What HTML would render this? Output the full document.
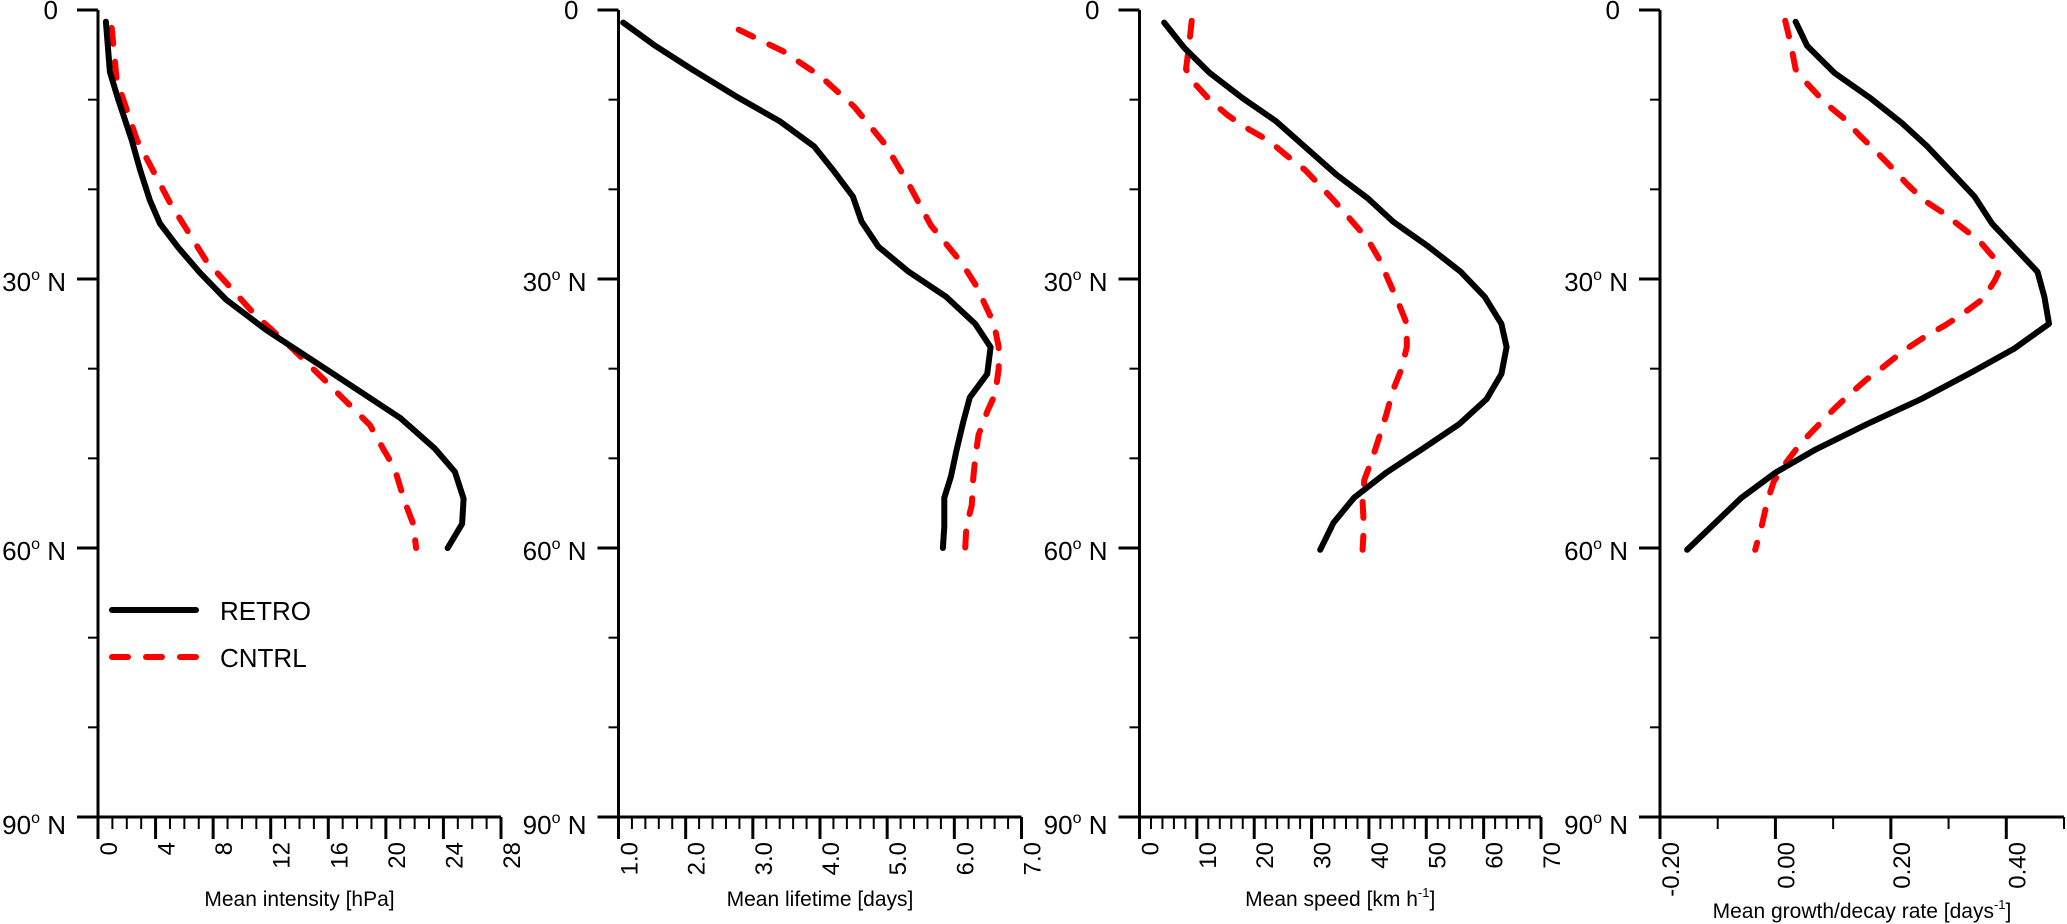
<!DOCTYPE html>
<html><head><meta charset="utf-8"><style>
body{margin:0;background:#fff}
svg{display:block}
text{font-family:"Liberation Sans",sans-serif;fill:#000}
</style></head><body>
<svg id="chart" width="2067" height="924" viewBox="0 0 2067 924" xmlns="http://www.w3.org/2000/svg"></svg>
<script>
// Shared latitude axis
const latTicks = [0, 30, 60, 90];
const latMinor = [10, 20, 40, 50, 70, 80];

// Panel 1: Mean intensity [hPa]
const p1Ticks = [0, 4, 8, 12, 16, 20, 24, 28];
const p1TickLabels = ["0", "4", "8", "12", "16", "20", "24", "28"];
const p1RetroLat = [1.3, 6.9, 10, 14.5, 17.8, 21.2, 23.8, 26.5, 29.3, 32.3, 35.7, 40.1, 45.5, 48.9, 51.5, 54.5, 57.3, 60];
const p1RetroVal = [0.55, 0.83, 1.41, 2.34, 2.92, 3.6, 4.3, 5.58, 7.08, 8.9, 11.7, 15.9, 21, 23.4, 24.8, 25.4, 25.3, 24.3];
const p1CntrlLat = [2, 7.8, 14.5, 21.5, 27.9, 33.8, 37.9, 42, 46.3, 48.9, 51.1, 54.8, 57.3, 60];
const p1CntrlVal = [0.95, 1.3, 2.7, 5, 7.5, 10.8, 13.6, 16.2, 18.9, 19.8, 20.6, 21.3, 21.9, 22.1];

// Panel 2: Mean lifetime [days]
const p2Ticks = [1, 2, 3, 4, 5, 6, 7];
const p2TickLabels = ["1.0", "2.0", "3.0", "4.0", "5.0", "6.0", "7.0"];
const p2RetroLat = [1.4, 4, 6.6, 9.8, 12.4, 15.2, 18, 20.8, 23.6, 26.4, 29.2, 32, 35, 37.6, 40.6, 43.2, 46, 49.2, 52, 54.4, 57.6, 60];
const p2RetroVal = [1.07, 1.55, 2.09, 2.79, 3.4, 3.91, 4.21, 4.49, 4.62, 4.87, 5.32, 5.88, 6.31, 6.54, 6.49, 6.23, 6.13, 6.03, 5.95, 5.85, 5.85, 5.83];
const p2CntrlLat = [2.2, 4.6, 7.4, 10.8, 15, 19.4, 24, 28.2, 30.8, 35, 37.6, 40, 42.8, 44.8, 47.4, 50, 52.4, 55.2, 57.6, 60.2];
const p2CntrlVal = [2.79, 3.45, 4.01, 4.51, 4.97, 5.32, 5.65, 6.11, 6.33, 6.59, 6.66, 6.66, 6.61, 6.49, 6.36, 6.31, 6.28, 6.26, 6.18, 6.16];

// Panel 3: Mean speed [km h-1]
const p3Ticks = [0, 10, 20, 30, 40, 50, 60, 70];
const p3TickLabels = ["0", "10", "20", "30", "40", "50", "60", "70"];
const p3RetroLat = [1.4, 4.2, 7, 9.8, 12.4, 15.4, 18.4, 21, 23.6, 26.4, 29.2, 32, 35, 37.6, 40.6, 43.4, 46.2, 49, 51.6, 54.4, 57.2, 60.2];
const p3RetroVal = [4.3, 7.8, 12.2, 17.9, 23.8, 29.1, 34.4, 39.8, 44.2, 50.4, 56, 60.2, 63.1, 64, 63.1, 60.5, 55.7, 49.2, 43, 37.4, 33.8, 31.5];
const p3CntrlLat = [1.2, 3.6, 6.6, 8.2, 10.2, 11.8, 13.2, 14.6, 16.2, 17.8, 19.6, 21.6, 23.6, 25.6, 27.8, 30, 32.6, 35, 37.6, 40, 42.4, 45.2, 47.6, 50, 52.4, 54.8, 57.6, 60.2];
const p3CntrlVal = [9.1, 8.7, 8.1, 9.6, 12.5, 15.5, 18.8, 22.6, 25.6, 28.8, 31.5, 34.4, 37.1, 39.8, 41.8, 43.3, 45.1, 46.6, 46.6, 45.7, 44.2, 43, 41.8, 40.6, 39.2, 38.9, 39.1, 38.9];

// Panel 4: Mean growth/decay rate [days-1]
const p4Ticks = [-0.2, 0, 0.2, 0.4];
const p4TickLabels = ["-0.20", "0.00", "0.20", "0.40"];
const p4RetroLat = [1.3, 4, 7, 9.8, 12.6, 15.2, 20.8, 23.8, 29.2, 32, 35, 37.8, 40.4, 43.4, 46.2, 49, 51.6, 54.4, 60.2];
const p4RetroVal = [0.035, 0.055, 0.102, 0.164, 0.219, 0.263, 0.345, 0.375, 0.454, 0.466, 0.474, 0.413, 0.34, 0.252, 0.158, 0.07, 0, -0.059, -0.153];
const p4CntrlLat = [1.2, 3.6, 6.6, 8, 10.4, 12, 14, 15.8, 17.6, 19.4, 21.2, 22.6, 24.2, 25.8, 27.6, 29.4, 30.2, 32.2, 34, 35.2, 36.6, 38, 39.8, 41.2, 43, 44.6, 46.6, 48.4, 50.6, 52.6, 55, 57.6, 60.2];
const p4CntrlVal = [0.017, 0.026, 0.035, 0.052, 0.087, 0.117, 0.146, 0.175, 0.202, 0.228, 0.257, 0.29, 0.322, 0.354, 0.378, 0.386, 0.38, 0.36, 0.322, 0.293, 0.255, 0.222, 0.187, 0.158, 0.126, 0.1, 0.07, 0.043, 0.017, -0.003, -0.015, -0.024, -0.035];

const NS = "http://www.w3.org/2000/svg";
const svg = document.getElementById("chart");
const Y0 = 10, Y90 = 817;
function yScale(lat) { return Y0 + (Y90 - Y0) * lat / 90; }
function mk(tag, attrs, parent) {
  const e = document.createElementNS(NS, tag);
  for (const k in attrs) e.setAttribute(k, attrs[k]);
  (parent || svg).appendChild(e);
  return e;
}

const panels = [
  {key:"intensity", x0:98, x1:501, min:0, max:28, ticks:p1Ticks, labels:p1TickLabels, minorStep:1,
   title:["Mean intensity [hPa]"], titleY:906,
   retro:[p1RetroLat,p1RetroVal], cntrl:[p1CntrlLat,p1CntrlVal]},
  {key:"lifetime", x0:618.5, x1:1021.5, min:1, max:7, ticks:p2Ticks, labels:p2TickLabels, minorStep:0.2,
   title:["Mean lifetime [days]"], titleY:906,
   retro:[p2RetroLat,p2RetroVal], cntrl:[p2CntrlLat,p2CntrlVal]},
  {key:"speed", x0:1139.5, x1:1541, min:0, max:70, ticks:p3Ticks, labels:p3TickLabels, minorStep:2,
   title:["Mean speed [km h","-1","]"], titleY:906,
   retro:[p3RetroLat,p3RetroVal], cntrl:[p3CntrlLat,p3CntrlVal]},
  {key:"growth", x0:1660, x1:2064, min:-0.2, max:0.5, ticks:p4Ticks, labels:p4TickLabels, minorStep:0.1,
   title:["Mean growth/decay rate [days","-1","]"], titleY:918,
   retro:[p4RetroLat,p4RetroVal], cntrl:[p4CntrlLat,p4CntrlVal]}
];

panels.forEach(p => {
  const g = mk("g", {});
  
  
  const xs = v => p.x0 + (p.x1 - p.x0) * (v - p.min) / (p.max - p.min);

  // axes
  const ax = mk("path", {d:`M${p.x0} ${Y0} V${Y90} H${p.x1}`, fill:"none", stroke:"#000", "stroke-width":3}, g);
  
  

  // y ticks
  latTicks.forEach(l => {
    const y = yScale(l);
    const t = mk("line", {x1:p.x0 - 21, x2:p.x0, y1:y, y2:y, stroke:"#000", "stroke-width":3}, g);
    
    
    let lab;
    if (l === 0) {
      lab = mk("text", {x:p.x0 - 40, y:y + 9, "font-size":26, "text-anchor":"end"}, g);
      lab.textContent = "0";
    } else {
      const dy = l === 90 ? 17 : 12;
      lab = mk("text", {x:p.x0 - 32, y:y + dy, "font-size":26, "text-anchor":"end"}, g);
      const a = mk("tspan", {}, lab); a.textContent = String(l);
      const b = mk("tspan", {"font-size":16, dy:-11}, lab); b.textContent = "o";
      const c = mk("tspan", {dy:11}, lab); c.textContent = " N";
    }
    
    
  });
  latMinor.forEach(l => {
    const y = yScale(l);
    const t = mk("line", {x1:p.x0 - 10, x2:p.x0, y1:y, y2:y, stroke:"#000", "stroke-width":2}, g);
    
    
  });

  // x minor ticks
  const n = Math.round((p.max - p.min) / p.minorStep);
  for (let i = 0; i <= n; i++) {
    const v = p.min + i * p.minorStep;
    const x = xs(v);
    const t = mk("line", {x1:x, x2:x, y1:Y90, y2:Y90 + 12, stroke:"#000", "stroke-width":2}, g);
    
    
  }
  // x major ticks + labels
  p.ticks.forEach((v, i) => {
    const x = xs(v);
    const t = mk("line", {x1:x, x2:x, y1:Y90, y2:Y90 + 22, stroke:"#000", "stroke-width":3}, g);
    
    
    const lab = mk("text", {x:0, y:0, "font-size":24, "text-anchor":"end", transform:`translate(${x + 19},842) rotate(-90)`}, g);
    lab.textContent = p.labels[i];
    
    
  });

  // title
  const tt = mk("text", {x:(p.x0 + p.x1) / 2, y:p.titleY, "font-size":21, "text-anchor":"middle"}, g);
  
  
  const s1 = mk("tspan", {}, tt); s1.textContent = p.title[0];
  if (p.title.length > 1) {
    const s2 = mk("tspan", {"font-size":13, dy:-9}, tt); s2.textContent = p.title[1];
    const s3 = mk("tspan", {dy:9}, tt); s3.textContent = p.title[2];
  }

  // series
  const line = (arr, color, dash, name) => {
    const d = arr[0].map((lat, i) => (i ? "L" : "M") + xs(arr[1][i]).toFixed(1) + " " + yScale(lat).toFixed(1)).join(" ");
    const attrs = {d, fill:"none", stroke:color, "stroke-width":6, "stroke-linejoin":"round", "stroke-linecap":"round"};
    if (dash) attrs["stroke-dasharray"] = "16 18";
    const e = mk("path", attrs, g);
    
    
  };
  line(p.cntrl, "#ff0000", true, "cntrl-line");
  line(p.retro, "#000000", false, "retro-line");
});

// legend
const lg = mk("g", {});


const l1 = mk("line", {x1:112, x2:196, y1:610, y2:610, stroke:"#000", "stroke-width":6, "stroke-linecap":"round"}, lg);


const t1 = mk("text", {x:220, y:620, "font-size":26}, lg);
t1.textContent = "RETRO";


const l2 = mk("line", {x1:112, x2:196, y1:657, y2:657, stroke:"#ff0000", "stroke-width":6, "stroke-linecap":"round", "stroke-dasharray":"16 18"}, lg);


const t2 = mk("text", {x:220, y:667, "font-size":26}, lg);
t2.textContent = "CNTRL";


</script>
</body></html>
